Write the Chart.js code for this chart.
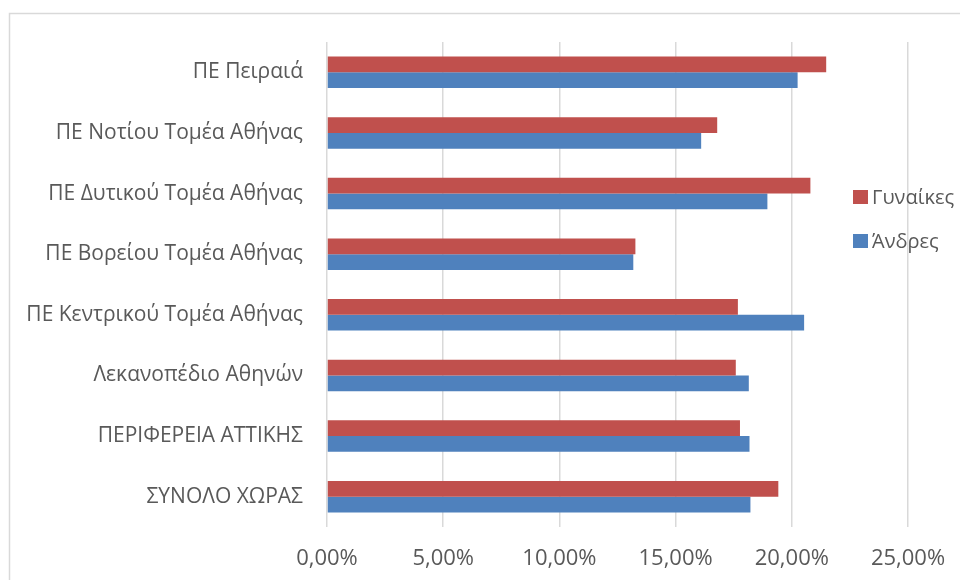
<!DOCTYPE html>
<html>
<head>
<meta charset="utf-8">
<script src="https://cdn.jsdelivr.net/npm/chart.js@4/dist/chart.umd.min.js"></script>
<style>
html,body{margin:0;padding:0;background:#fff;}
#wrap{position:relative;width:960px;height:580px;}
</style>
</head>
<body>
<div id="wrap"><canvas id="c" width="960" height="580"></canvas></div>
<script>
const categories = [
  "ΠΕ Πειραιά",
  "ΠΕ Νοτίου Τομέα Αθήνας",
  "ΠΕ Δυτικού Τομέα Αθήνας",
  "ΠΕ Βορείου Τομέα Αθήνας",
  "ΠΕ Κεντρικού Τομέα Αθήνας",
  "Λεκανοπέδιο Αθηνών",
  "ΠΕΡΙΦΕΡΕΙΑ ΑΤΤΙΚΗΣ",
  "ΣΥΝΟΛΟ ΧΩΡΑΣ"
];
const women = [21.48, 16.79, 20.80, 13.27, 17.68, 17.59, 17.77, 19.42];
const men   = [20.25, 16.10, 18.95, 13.18, 20.53, 18.15, 18.18, 18.22];
const seriesNames = ["Γυναίκες", "Άνδρες"];
const xTicks = [0, 5, 10, 15, 20, 25];

const FONT = "'Open Sans', sans-serif";
const TXT = "#595959";

const framePlugin = {
  id: 'frame',
  beforeDraw(chart) {
    const ctx = chart.ctx;
    ctx.save();
    ctx.strokeStyle = '#d9d9d9';
    ctx.lineWidth = 1.5;
    ctx.strokeRect(9.5, 13.5, 1100, 1100);
    ctx.restore();
  }
};

const legendPlugin = {
  id: 'customLegend',
  afterDraw(chart) {
    const ctx = chart.ctx;
    ctx.save();
    ctx.font = "20px " + FONT;
    ctx.textBaseline = 'middle';
    ctx.textAlign = 'left';
    const ys = [197, 241];
    chart.data.datasets.forEach((ds, i) => {
      ctx.fillStyle = ds.backgroundColor;
      ctx.fillRect(853, ys[i] - 7, 15, 14);
      ctx.fillStyle = TXT;
      ctx.fillText(ds.label, 872, ys[i] + 1);
    });
    ctx.restore();
  }
};

const chart = new Chart(document.getElementById('c'), {
  type: 'bar',
  data: {
    labels: categories,
    datasets: [
      { label: seriesNames[0], data: women, backgroundColor: '#C0504D', categoryPercentage: 0.52, barPercentage: 1.0 },
      { label: seriesNames[1], data: men, backgroundColor: '#4F81BD', categoryPercentage: 0.52, barPercentage: 1.0 }
    ]
  },
  options: {
    indexAxis: 'y',
    responsive: false,
    animation: false,
    layout: { padding: { top: 42, right: 52, left: 0, bottom: 0 } },
    plugins: { legend: { display: false }, tooltip: { enabled: false } },
    scales: {
      x: {
        min: 0, max: 25,
        afterBuildTicks(scale) { scale.ticks = xTicks.map(v => ({ value: v })); },
        afterFit(scale) { scale.height = 53; scale.paddingRight = 0; scale.paddingLeft = 0; },
        grid: { color: '#d9d9d9', lineWidth: 1.5, drawTicks: false },
        border: { display: false },
        ticks: {
          color: TXT, font: { family: FONT, size: 22 }, padding: 19,
          callback: v => Number(v).toFixed(2).replace('.', ',') + '%'
        }
      },
      y: {
        afterFit(scale) { scale.width = 327; scale.paddingTop = 0; scale.paddingBottom = 0; },
        grid: { display: false, drawTicks: false },
        border: { display: false },
        ticks: { color: TXT, font: { family: FONT, size: 21 }, padding: 24 }
      }
    }
  },
  plugins: [framePlugin, legendPlugin]
});
</script>
</body>
</html>
